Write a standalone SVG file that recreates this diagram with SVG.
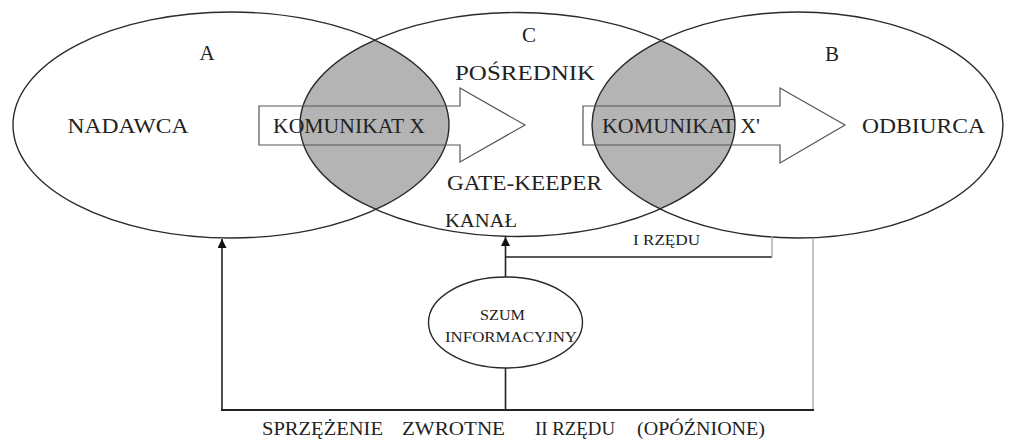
<svg xmlns="http://www.w3.org/2000/svg" width="1010" height="441" viewBox="0 0 1010 441">
<style>
.ell{fill:none;stroke:#2a2a2a;stroke-width:1.4}
.lens{fill:#b4b4b4;stroke:none}
.arr{fill:none;stroke:#555;stroke-width:1.2}
.t{font-family:"Liberation Serif","Times New Roman",serif;fill:#222;text-anchor:middle}
.big{font-size:21px}
.mid{font-size:18px}
.sm{font-size:15px}
.ln{fill:none;stroke:#222;stroke-width:1.6}
.lt{fill:none;stroke:#aaa;stroke-width:1.4}
</style>
<defs>
<clipPath id="clipC"><ellipse cx="517.5" cy="124.5" rx="217.5" ry="112"/></clipPath>
<marker id="ah" viewBox="0 0 10 10" refX="10" refY="5" markerWidth="9" markerHeight="9" markerUnits="userSpaceOnUse" orient="auto"><path d="M0,0 L10,5 L0,10 Z" fill="#111"/></marker>
</defs>
<rect width="1010" height="441" fill="#fff"/>
<g id="lenses">
<ellipse class="lens" cx="231" cy="125" rx="218" ry="113" clip-path="url(#clipC)"/>
<ellipse class="lens" cx="797.5" cy="125" rx="205.5" ry="113" clip-path="url(#clipC)"/>
</g>
<g id="node-A">
<ellipse class="ell" cx="231" cy="125" rx="218" ry="113"/>
<text class="t big" x="207" y="60">A</text>
<text class="t big" x="128" y="133" textLength="121" lengthAdjust="spacingAndGlyphs">NADAWCA</text>
</g>
<g id="node-C">
<ellipse class="ell" cx="517.5" cy="124.5" rx="217.5" ry="112"/>
<text class="t big" x="529" y="42">C</text>
<text class="t big" x="525" y="80" textLength="140" lengthAdjust="spacingAndGlyphs">POŚREDNIK</text>
<text class="t big" x="524.5" y="190" textLength="155" lengthAdjust="spacingAndGlyphs">GATE-KEEPER</text>
<text class="t mid" x="481" y="227" textLength="72" lengthAdjust="spacingAndGlyphs">KANAŁ</text>
</g>
<g id="node-B">
<ellipse class="ell" cx="797.5" cy="125" rx="205.5" ry="113"/>
<text class="t big" x="832" y="61">B</text>
<text class="t big" x="923.5" y="133" textLength="123" lengthAdjust="spacingAndGlyphs">ODBIURCA</text>
</g>
<g id="message-X">
<path class="arr" d="M259,106 H460 V88 L525,125 L460,162 V145 H259 Z"/>
<text class="t big" x="349" y="133" textLength="152" lengthAdjust="spacingAndGlyphs">KOMUNIKAT X</text>
</g>
<g id="message-X2">
<path class="arr" d="M583,106 H780 V88 L845,125 L780,163 V145 H583 Z"/>
<text class="t big" x="681" y="133" textLength="158" lengthAdjust="spacingAndGlyphs">KOMUNIKAT X'</text>
</g>
<g id="node-noise">
<ellipse class="ell" cx="505.5" cy="322.5" rx="77" ry="45.5"/>
<text class="t sm" x="502.5" y="320" textLength="45" lengthAdjust="spacingAndGlyphs">SZUM</text>
<text class="t sm" x="511" y="342" textLength="132" lengthAdjust="spacingAndGlyphs">INFORMACYJNY</text>
</g>
<g id="connectors">
<line class="ln" x1="222" y1="410" x2="222" y2="239" marker-end="url(#ah)"/>
<line class="ln" x1="505.5" y1="277" x2="505.5" y2="237" marker-end="url(#ah)"/>
<line class="ln" x1="505.5" y1="410" x2="505.5" y2="368"/>
<polyline class="ln" points="505.5,257 772,257"/>
<line class="lt" x1="772" y1="257" x2="772" y2="236"/>
<line class="lt" x1="813" y1="238" x2="813" y2="410"/>
<line class="ln" x1="221" y1="410" x2="814" y2="410" style="stroke-width:2"/>
<text class="t sm" x="666.5" y="245" textLength="67" lengthAdjust="spacingAndGlyphs">I RZĘDU</text>
<text class="t mid" x="322.5" y="435" textLength="121" lengthAdjust="spacingAndGlyphs">SPRZĘŻENIE</text>
<text class="t mid" x="453.5" y="435" textLength="103" lengthAdjust="spacingAndGlyphs">ZWROTNE</text>
<text class="t mid" x="575" y="435" textLength="80" lengthAdjust="spacingAndGlyphs">II RZĘDU</text>
<text class="t mid" x="701" y="435" textLength="128" lengthAdjust="spacingAndGlyphs">(OPÓŹNIONE)</text>
</g>
</svg>
